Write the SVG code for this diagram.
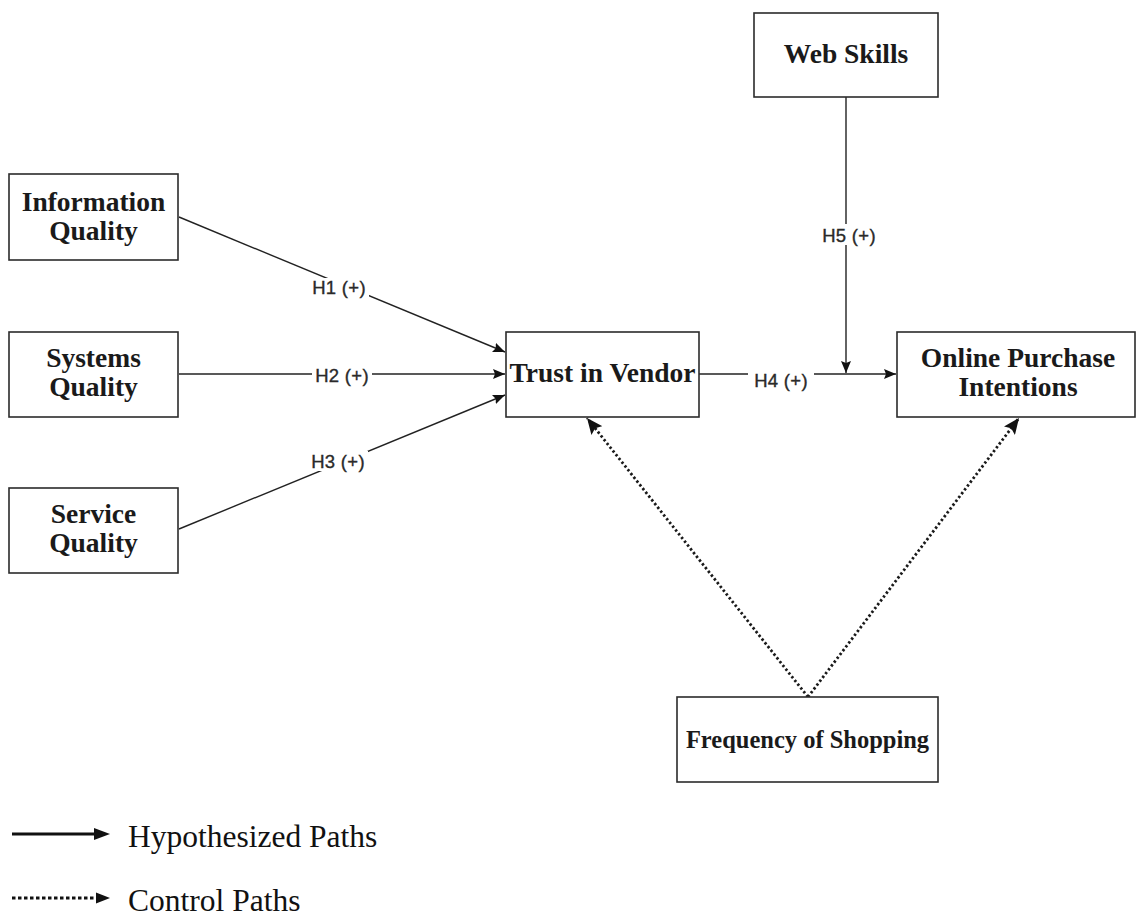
<svg xmlns="http://www.w3.org/2000/svg" width="1139" height="917" viewBox="0 0 1139 917">
  <style>
    .box { fill: #ffffff; stroke: #2b2b2b; stroke-width: 1.6; }
    .node-text { font-family: "Liberation Serif", "Times New Roman", serif; font-weight: bold; font-size: 27.5px; fill: #1a1a1a; text-anchor: middle; }
    .path-solid { fill: none; stroke: #222222; stroke-width: 1.4; }
    .path-dotted { fill: none; stroke: #1a1a1a; stroke-width: 2.8; stroke-dasharray: 2.4 2.4; }
    .hlabel { font-family: "Liberation Sans", Arial, sans-serif; font-size: 18.5px; fill: #2a2a2a; stroke: #2a2a2a; stroke-width: 0.35; text-anchor: middle; letter-spacing: 0.3px; }
    .label-bg { fill: #ffffff; }
    .legend-text { font-family: "Liberation Serif", "Times New Roman", serif; font-size: 31.5px; fill: #111111; }
  </style>
  <defs>
    <marker id="arrow" viewBox="0 0 12 10" refX="12" refY="5" markerWidth="12" markerHeight="10" markerUnits="userSpaceOnUse" orient="auto">
      <path d="M0,0 L12,5 L0,10 L2,5 z" fill="#111111"/>
    </marker>
    <marker id="arrow-big" viewBox="0 0 16 14" refX="16" refY="7" markerWidth="16" markerHeight="14" markerUnits="userSpaceOnUse" orient="auto">
      <path d="M0,0 L16,7 L0,14 L3,7 z" fill="#111111"/>
    </marker>
  </defs>

  <rect width="1139" height="917" fill="#ffffff"/>

  <!-- connectors -->
  <g id="connectors">
    <!-- H1: Information Quality -> Trust in Vendor -->
    <line class="path-solid" x1="179" y1="217" x2="505" y2="352" marker-end="url(#arrow)"/>
    <!-- H2: Systems Quality -> Trust in Vendor -->
    <line class="path-solid" x1="179" y1="374" x2="505" y2="374" marker-end="url(#arrow)"/>
    <!-- H3: Service Quality -> Trust in Vendor -->
    <line class="path-solid" x1="179" y1="529" x2="505" y2="395" marker-end="url(#arrow)"/>
    <!-- H4: Trust in Vendor -> Online Purchase Intentions -->
    <line class="path-solid" x1="699" y1="374" x2="896" y2="374" marker-end="url(#arrow)"/>
    <!-- H5: Web Skills -> H4 path -->
    <line class="path-solid" x1="846" y1="97" x2="846" y2="373" marker-end="url(#arrow)"/>
    <!-- control paths from Frequency of Shopping -->
    <line class="path-dotted" x1="808" y1="697" x2="587" y2="418" marker-end="url(#arrow-big)"/>
    <line class="path-dotted" x1="808" y1="697" x2="1019" y2="418" marker-end="url(#arrow-big)"/>

    <!-- path labels -->
    <rect class="label-bg" x="309" y="278" width="60" height="20"/>
    <text class="hlabel" x="339" y="294">H1 (+)</text>
    <rect class="label-bg" x="312" y="365" width="60" height="20"/>
    <text class="hlabel" x="342" y="382">H2 (+)</text>
    <rect class="label-bg" x="308" y="451" width="60" height="20"/>
    <text class="hlabel" x="338" y="468">H3 (+)</text>
    <rect class="label-bg" x="748" y="366" width="66" height="22"/>
    <text class="hlabel" x="781" y="387">H4 (+)</text>
    <rect class="label-bg" x="819" y="224" width="60" height="21"/>
    <text class="hlabel" x="849" y="242">H5 (+)</text>
  </g>

  <!-- nodes -->
  <g id="information-quality">
    <rect class="box" x="9" y="174" width="169" height="86"/>
    <text class="node-text" x="93.5" y="211">Information</text>
    <text class="node-text" x="93.5" y="240">Quality</text>
  </g>
  <g id="systems-quality">
    <rect class="box" x="9" y="332" width="169" height="85"/>
    <text class="node-text" x="93.5" y="367">Systems</text>
    <text class="node-text" x="93.5" y="396">Quality</text>
  </g>
  <g id="service-quality">
    <rect class="box" x="9" y="488" width="169" height="85"/>
    <text class="node-text" x="93.5" y="523">Service</text>
    <text class="node-text" x="93.5" y="552">Quality</text>
  </g>
  <g id="trust-in-vendor">
    <rect class="box" x="506" y="332" width="193" height="85"/>
    <text class="node-text" x="602.5" y="382">Trust in Vendor</text>
  </g>
  <g id="online-purchase-intentions">
    <rect class="box" x="897" y="332" width="238" height="85"/>
    <text class="node-text" x="1018" y="367">Online Purchase</text>
    <text class="node-text" x="1018" y="396">Intentions</text>
  </g>
  <g id="web-skills">
    <rect class="box" x="754" y="13" width="184" height="84"/>
    <text class="node-text" x="846" y="63">Web Skills</text>
  </g>
  <g id="frequency-of-shopping">
    <rect class="box" x="677" y="697" width="261" height="85"/>
    <text class="node-text" x="807.5" y="748" style="font-size:24.5px">Frequency of Shopping</text>
  </g>

  <!-- legend -->
  <g id="legend">
    <line x1="12" y1="834" x2="96" y2="834" stroke="#111111" stroke-width="3"/>
    <path d="M94,828 L110,834 L94,840 z" fill="#111111"/>
    <text class="legend-text" x="128" y="847">Hypothesized Paths</text>
    <line x1="12" y1="898" x2="96" y2="898" stroke="#111111" stroke-width="3" stroke-dasharray="3.5 2.5"/>
    <path d="M96,892.5 L110,898 L96,903.5 z" fill="#111111"/>
    <text class="legend-text" x="128" y="911">Control Paths</text>
  </g>
</svg>
